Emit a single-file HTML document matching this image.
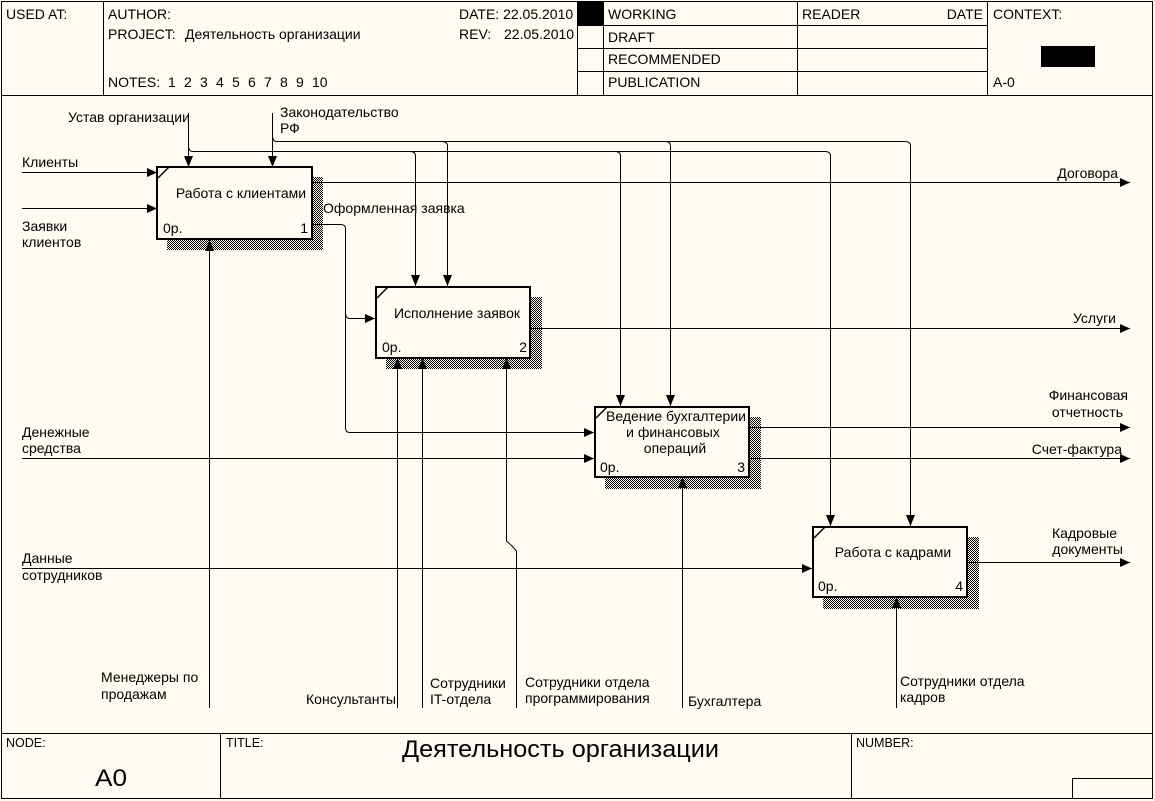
<!DOCTYPE html>
<html><head><meta charset="utf-8"><style>
html,body{margin:0;padding:0;background:#fffbf0;}
svg{display:block;}
text{font-family:"Liberation Sans","Noto Sans CJK SC",sans-serif;font-size:14px;fill:#000;}
.f{font-size:12.5px;}
</style></head><body>
<svg width="1155" height="801" viewBox="0 0 1155 801" xmlns="http://www.w3.org/2000/svg">
<defs>
<pattern id="hp" width="2" height="2" patternUnits="userSpaceOnUse">
<rect width="2" height="2" fill="#fffbf0"/>
<rect x="0" y="0" width="1" height="1" fill="#000"/>
<rect x="1" y="1" width="1" height="1" fill="#000"/>
</pattern>
</defs>
<rect width="1155" height="801" fill="#fffbf0"/>
<!-- frame -->
<g stroke="#000" stroke-width="1" fill="none" shape-rendering="crispEdges">
<rect x="1.5" y="1.5" width="1151" height="797"/>
<line x1="1" y1="95.5" x2="1153" y2="95.5"/>
<line x1="103.5" y1="1" x2="103.5" y2="95"/>
<line x1="577.5" y1="1" x2="577.5" y2="95"/>
<line x1="603.5" y1="1" x2="603.5" y2="95"/>
<line x1="797.5" y1="1" x2="797.5" y2="95"/>
<line x1="987.5" y1="1" x2="987.5" y2="95"/>
<line x1="577" y1="25.5" x2="987" y2="25.5"/>
<line x1="577" y1="48.5" x2="987" y2="48.5"/>
<line x1="577" y1="71.5" x2="987" y2="71.5"/>
<line x1="1" y1="733.5" x2="1153" y2="733.5"/>
<line x1="220.5" y1="733" x2="220.5" y2="799"/>
<line x1="851.5" y1="733" x2="851.5" y2="799"/>
<line x1="1072.5" y1="778.5" x2="1153" y2="778.5"/>
<line x1="1072.5" y1="778" x2="1072.5" y2="799"/>
</g>
<rect x="578" y="2" width="25" height="23" fill="#000"/>
<rect x="1041" y="46" width="54" height="21" fill="#000"/>
<!-- header text -->
<text x="6" y="19">USED AT:</text>
<text x="108" y="19">AUTHOR:</text>
<text x="459" y="19">DATE: 22.05.2010</text>
<text x="108" y="39">PROJECT:</text>
<text x="185" y="39">Деятельность организации</text>
<text x="459" y="39">REV:</text>
<text x="504" y="39">22.05.2010</text>
<text x="108" y="87">NOTES:</text>
<text x="168" y="87">1</text><text x="184" y="87">2</text><text x="200" y="87">3</text><text x="216" y="87">4</text><text x="232" y="87">5</text><text x="248" y="87">6</text><text x="264" y="87">7</text><text x="280" y="87">8</text><text x="296" y="87">9</text><text x="312" y="87">10</text>
<text x="608" y="19">WORKING</text>
<text x="608" y="42">DRAFT</text>
<text x="608" y="64">RECOMMENDED</text>
<text x="608" y="87">PUBLICATION</text>
<text x="802" y="19">READER</text>
<text x="983" y="19" text-anchor="end">DATE</text>
<text x="993" y="19">CONTEXT:</text>
<text x="993" y="87">A-0</text>
<!-- footer text -->
<text class="f" x="6" y="747">NODE:</text>
<text class="f" x="226" y="747">TITLE:</text>
<text class="f" x="856" y="747">NUMBER:</text>
<text x="95" y="786" style="font-size:24px" textLength="32" lengthAdjust="spacingAndGlyphs">A0</text>
<text x="402" y="757" style="font-size:24px" textLength="317" lengthAdjust="spacingAndGlyphs">Деятельность организации</text>

<!-- shadows -->
<rect x="167" y="177" width="156" height="73" fill="url(#hp)"/>
<rect x="386" y="297" width="156" height="72" fill="url(#hp)"/>
<rect x="605" y="417" width="156" height="72" fill="url(#hp)"/>
<rect x="823" y="537" width="156" height="72" fill="url(#hp)"/>

<!-- connectors -->
<g stroke="#000" stroke-width="1" fill="none">
<line x1="22" y1="172.5" x2="157" y2="172.5"/>
<line x1="22" y1="208.5" x2="157" y2="208.5"/>
<line x1="22" y1="458.5" x2="594" y2="458.5"/>
<line x1="22" y1="568.5" x2="812" y2="568.5"/>
<line x1="312" y1="182.5" x2="1130" y2="182.5"/>
<line x1="530" y1="328.5" x2="1130" y2="328.5"/>
<line x1="749" y1="427.5" x2="1130" y2="427.5"/>
<line x1="749" y1="458.5" x2="1130" y2="458.5"/>
<line x1="967" y1="562.5" x2="1130" y2="562.5"/>
<path d="M312,224.5 L341,224.5 Q345.5,224.5 345.5,229 L345.5,428 Q345.5,432.5 350,432.5 L594,432.5"/>
<path d="M345.5,313 Q345.5,318.5 350,318.5 L375,318.5"/>
<line x1="188.5" y1="113" x2="188.5" y2="167"/>
<path d="M188.5,146 Q188.5,151.5 193,151.5 L825,151.5 Q830.5,151.5 830.5,156 L830.5,526"/>
<path d="M410,151.5 Q415.5,151.5 415.5,156 L415.5,286"/>
<path d="M615,151.5 Q620.5,151.5 620.5,156 L620.5,406"/>
<line x1="272.5" y1="113" x2="272.5" y2="167"/>
<path d="M272.5,136 Q272.5,141.5 277,141.5 L905,141.5 Q910.5,141.5 910.5,146 L910.5,526"/>
<path d="M442,141.5 Q447.5,141.5 447.5,146 L447.5,286"/>
<path d="M665,141.5 Q670.5,141.5 670.5,146 L670.5,406"/>
<line x1="209.5" y1="708" x2="209.5" y2="240"/>
<line x1="397.5" y1="708" x2="397.5" y2="358"/>
<line x1="422.5" y1="708" x2="422.5" y2="358"/>
<path d="M516.5,708 L516.5,551 L512,546 L506.5,541 L506.5,358"/>
<line x1="682.5" y1="708" x2="682.5" y2="477"/>
<line x1="896.5" y1="708" x2="896.5" y2="597"/>
</g>

<!-- boxes -->
<g stroke="#000" stroke-width="2" fill="#fffbf0">
<rect x="157" y="167" width="155" height="72"/>
<rect x="376" y="287" width="154" height="71"/>
<rect x="595" y="407" width="154" height="70"/>
<rect x="813" y="527" width="154" height="70"/>
</g>
<g stroke="#000" stroke-width="1.5">
<line x1="158" y1="178" x2="169" y2="167"/>
<line x1="377" y1="298" x2="388" y2="287"/>
<line x1="596" y1="418" x2="607" y2="407"/>
<line x1="814" y1="538" x2="825" y2="527"/>
</g>

<!-- arrowheads -->
<g fill="#000">
<polygon points="157,172.5 147,168 147,177"/>
<polygon points="157,208.5 147,204 147,213"/>
<polygon points="375,318.5 365,314 365,323"/>
<polygon points="594,432.5 584,428 584,437"/>
<polygon points="594,458.5 584,454 584,463"/>
<polygon points="812,568.5 802,564 802,573"/>
<polygon points="1130,182.5 1120,178 1120,187"/>
<polygon points="1130,328.5 1120,324 1120,333"/>
<polygon points="1130,427.5 1120,423 1120,432"/>
<polygon points="1130,458.5 1120,454 1120,463"/>
<polygon points="1130,562.5 1120,558 1120,567"/>
<polygon points="188.5,167 184,156 193,156"/>
<polygon points="272.5,167 268,156 277,156"/>
<polygon points="415.5,286 411,275 420,275"/>
<polygon points="447.5,286 443,275 452,275"/>
<polygon points="620.5,406 616,395 625,395"/>
<polygon points="670.5,406 666,395 675,395"/>
<polygon points="830.5,526 826,515 835,515"/>
<polygon points="910.5,526 906,515 915,515"/>
<polygon points="209.5,240 205,251 214,251"/>
<polygon points="397.5,358 393,369 402,369"/>
<polygon points="422.5,358 418,369 427,369"/>
<polygon points="506.5,358 502,369 511,369"/>
<polygon points="682.5,477 678,488 687,488"/>
<polygon points="896.5,597 892,608 901,608"/>
</g>

<!-- box text -->
<text x="241" y="198" text-anchor="middle">Работа с клиентами</text>
<text x="163" y="233">0р.</text>
<text x="308" y="233" text-anchor="end">1</text>
<text x="457" y="318" text-anchor="middle">Исполнение заявок</text>
<text x="382" y="352">0р.</text>
<text x="527" y="352" text-anchor="end">2</text>
<text x="676" y="421" text-anchor="middle">Ведение бухгалтерии</text>
<text x="673" y="437" text-anchor="middle">и финансовых</text>
<text x="675" y="453" text-anchor="middle">операций</text>
<text x="600" y="472">0р.</text>
<text x="745" y="472" text-anchor="end">3</text>
<text x="893" y="557" text-anchor="middle">Работа с кадрами</text>
<text x="818" y="591">0р.</text>
<text x="963" y="591" text-anchor="end">4</text>

<!-- arrow labels -->
<text x="68" y="122">Устав организации</text>
<text x="280" y="117">Законодательство</text>
<text x="280" y="133">РФ</text>
<text x="22" y="167">Клиенты</text>
<text x="22" y="231">Заявки</text>
<text x="22" y="247">клиентов</text>
<text x="1118" y="178" text-anchor="end">Договора</text>
<text x="323" y="213">Оформленная заявка</text>
<text x="1116" y="323" text-anchor="end">Услуги</text>
<text x="22" y="437">Денежные</text>
<text x="22" y="453">средства</text>
<text x="1128" y="400" text-anchor="end">Финансовая</text>
<text x="1123" y="417" text-anchor="end">отчетность</text>
<text x="1122" y="454" text-anchor="end">Счет-фактура</text>
<text x="22" y="563">Данные</text>
<text x="22" y="580">сотрудников</text>
<text x="1117" y="538" text-anchor="end">Кадровые</text>
<text x="1123" y="554" text-anchor="end">документы</text>
<text x="101" y="682">Менеджеры по</text>
<text x="101" y="699">продажам</text>
<text x="396" y="704" text-anchor="end">Консультанты</text>
<text x="430" y="688">Сотрудники</text>
<text x="430" y="704">IT-отдела</text>
<text x="525" y="687">Сотрудники отдела</text>
<text x="525" y="703">программирования</text>
<text x="688" y="706">Бухгалтера</text>
<text x="900" y="686">Сотрудники отдела</text>
<text x="900" y="702">кадров</text>
</svg>
</body></html>
